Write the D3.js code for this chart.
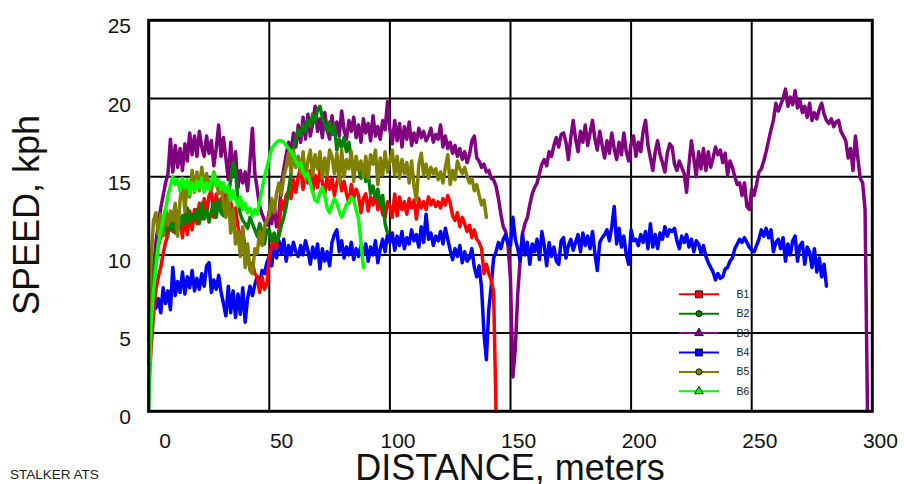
<!DOCTYPE html>
<html>
<head>
<meta charset="utf-8">
<script src="https://cdn.jsdelivr.net/npm/d3@7"></script>
<style>
  body { margin: 0; background: #fff; }
  text { font-family: Arial, "Liberation Sans", sans-serif; }
</style>
</head>
<body>
<svg id="chart" width="904" height="484"></svg>
<script>
// Speed vs distance, six runs B1..B6, one sample per metre
const X_TICKS = [0, 50, 100, 150, 200, 250, 300];
const Y_TICKS = [0, 5, 10, 15, 20, 25];
const GRID_X = [50, 100, 150, 200, 250];
const GRID_Y = [5, 10, 15, 20];
const NAMES = ["B1", "B2", "B3", "B4", "B5", "B6"];
const COLORS = ["#ff0000", "#008000", "#800080", "#0000ff", "#808000", "#00ff00"];
const SHAPES = ["square", "circle", "triangle", "square", "circle", "triangle"];
const STEP_M = 1;

const B1 = [
  1.5, 4.0, 6.2, 7.8, 8.6, 9.2, 10.1, 10.8, 11.3, 12.4,
  11.5, 12.9, 11.7, 12.4, 11.1, 12.6, 11.3, 12.8, 11.6, 12.9,
  12.0, 13.3, 12.3, 13.6, 12.6, 13.8, 14.1, 12.4, 13.9, 12.9,
  13.6, 12.8, 14.0, 13.2, 13.4, 12.5, 13.0, 11.8, 11.0, 11.6,
  10.4, 9.9, 9.1, 9.5, 8.8, 8.6, 7.6, 8.6, 7.8, 8.2,
  9.8, 10.6, 11.2, 10.4, 11.6, 13.5, 12.9, 13.8, 14.1, 13.6,
  14.8, 14.0, 15.0, 15.6, 14.2, 15.3, 14.6, 15.4, 14.0, 15.1,
  14.3, 15.5, 14.6, 13.9, 15.0, 14.2, 14.9, 13.8, 14.6, 15.2,
  14.1, 14.7, 13.9, 13.3, 14.5, 13.6, 14.2, 13.8, 12.7, 13.6,
  13.9, 12.8, 13.7, 13.2, 14.0, 12.9, 13.5, 12.6, 12.4, 13.4,
  13.1, 12.4, 13.9, 12.5, 13.7, 12.9, 13.4, 12.6, 13.6, 13.0,
  13.5, 12.3, 13.6, 13.0, 13.4, 12.9, 13.7, 13.2, 13.5, 13.1,
  13.4, 13.0, 13.6, 13.2, 13.8, 13.3, 12.5, 12.2, 12.7, 11.8,
  12.4, 12.0, 11.5, 11.9, 11.1, 11.6, 11.0, 10.8, 10.4, 8.8,
  9.4, 8.8, 8.4, 7.6, 0
];
const B2 = [
  3.0, 6.0, 8.5, 10.0, 10.6, 11.2, 11.7, 11.3, 12.2, 11.6,
  12.0, 11.4, 12.8, 11.7, 12.5, 12.0, 13.0, 12.1, 12.6, 12.2,
  12.9, 12.0, 13.3, 12.3, 12.9, 12.1, 12.8, 13.3, 12.4, 13.5,
  12.7, 12.5, 13.4, 13.8, 14.8, 15.9, 15.4, 13.4, 12.6, 12.2,
  12.0, 11.7, 12.4, 12.0, 11.6, 11.2, 12.0, 11.5, 10.7, 11.6,
  11.6, 10.9, 11.4, 10.8, 11.2, 11.9, 12.4, 13.1, 14.1, 15.2,
  16.7, 17.4, 18.0, 17.6, 18.3, 17.9, 18.6, 18.2, 19.0, 18.5,
  19.3, 19.5, 18.8, 18.4, 17.9, 18.5, 17.7, 18.3, 16.7, 17.4,
  16.9, 17.5, 16.6, 17.2, 16.1, 15.4, 16.0, 15.6, 14.9, 15.5,
  14.7, 15.2, 13.9, 14.4, 13.6, 14.2, 13.2, 13.8, 12.0, 11.4
];
const B3 = [
  4.5, 7.0, 9.2, 10.8, 12.0, 13.0, 13.8, 14.6, 15.2, 17.4,
  15.3, 17.0, 15.6, 16.8, 15.4, 17.1, 16.0, 17.8, 16.4, 17.6,
  16.3, 17.9, 16.9, 16.3, 17.6, 16.5, 17.3, 15.7, 16.8, 18.3,
  16.3, 17.5, 16.2, 14.8, 17.2, 15.0, 16.6, 14.3, 15.4, 14.6,
  15.3, 14.1, 16.0, 18.1, 15.2, 14.2, 13.1, 12.6, 12.2, 11.9,
  12.8, 12.0, 13.3, 11.8, 12.6, 14.5, 15.5, 16.4, 17.2, 16.5,
  17.8, 16.9, 18.3, 17.2, 18.8, 17.4, 19.0, 17.6, 18.4, 19.5,
  17.9, 18.7, 17.5, 19.1, 18.0, 17.4, 18.9, 17.7, 18.5, 17.6,
  19.2, 18.0, 17.4, 18.6, 17.9, 18.8, 17.5, 18.3, 17.2, 18.7,
  17.8, 18.4, 17.3, 18.9, 17.6, 18.2, 17.4, 18.6, 18.0, 19.8,
  18.0, 17.1, 18.6, 17.3, 18.4, 16.9, 18.2, 17.4, 18.5, 17.0,
  17.8, 17.2, 18.1, 17.5, 17.9, 17.3, 17.6, 18.1, 17.2, 17.7,
  17.4, 18.3, 16.9, 17.6, 16.8, 17.2, 16.5, 17.0, 16.3, 16.8,
  16.1, 16.6, 15.9, 16.4, 17.3, 17.6, 16.2, 16.0, 15.6, 15.8,
  15.3, 15.4, 14.9, 14.8, 14.4, 13.6, 12.6, 11.8, 11.5, 10.6,
  8.4, 2.2, 4.0, 7.5, 9.7, 11.4, 12.0, 12.4, 13.2, 13.9,
  14.3, 14.6, 15.2, 15.8, 16.1, 15.7, 16.6, 16.3, 17.0, 17.5,
  16.9, 17.7, 17.8, 17.2, 16.1, 17.5, 18.6, 17.4, 16.6, 17.9,
  17.2, 18.3, 17.0, 17.8, 18.6, 17.4, 16.7, 17.9, 17.0, 16.2,
  17.3, 16.5, 17.8, 16.8, 16.1, 17.2, 16.4, 17.8, 16.6, 16.0,
  17.1, 17.6, 16.3, 17.2, 16.6, 17.9, 18.6, 17.0, 16.2, 15.4,
  16.6, 17.3, 16.4, 15.9, 15.3, 16.5, 17.1, 16.9, 15.8, 15.4,
  16.0, 15.6, 15.2, 14.0, 15.8, 17.3, 16.2, 15.0, 16.6, 15.5,
  16.8, 15.4, 16.6, 15.6, 16.2, 16.9, 16.4, 16.7, 15.9, 16.5,
  15.1, 16.0, 15.6, 15.0, 14.5, 14.6, 13.8, 14.6, 13.1, 12.9,
  14.2, 13.8, 14.5, 15.3, 15.5, 16.0, 16.6, 17.3, 18.0, 18.6,
  19.7, 19.2, 19.6, 20.0, 20.6, 19.5, 20.1, 19.6, 20.5, 19.4,
  19.9, 19.1, 19.5, 18.8, 19.7, 18.6, 19.1, 18.7, 19.3, 19.7,
  19.0, 18.6, 18.4, 18.7, 18.2, 18.5, 18.6, 17.9, 17.6, 17.3,
  16.2, 16.8, 15.4, 17.6, 16.2, 14.9, 14.6, 12.9, 0
];
const B4 = [
  4.5, 6.5, 7.6, 6.6, 7.2, 6.3, 7.9, 6.9, 7.7, 6.5,
  9.2, 7.4, 8.3, 7.6, 8.9, 7.5, 8.6, 7.9, 9.0, 7.7,
  8.5, 7.8, 8.8, 8.0, 9.3, 9.5, 7.6, 8.4, 7.8, 8.7,
  7.6, 6.9, 6.1, 8.0, 6.3, 7.7, 6.0, 7.5, 6.2, 7.9,
  5.7, 7.2, 8.0, 7.4, 8.1, 8.6, 8.2, 9.0, 8.8, 9.5,
  9.9, 9.3, 10.7, 9.8, 10.9, 10.1, 11.0, 9.6, 10.6, 10.0,
  10.8, 10.2, 9.9, 10.6, 10.0, 10.9, 10.3, 9.4, 10.5, 9.8,
  10.7, 9.1, 10.4, 9.6, 10.2, 9.3, 10.8, 11.3, 11.6, 10.2,
  10.9, 9.8, 10.5, 10.0, 10.8, 9.7, 10.4, 9.9, 10.6, 10.1,
  10.7, 9.6, 10.5, 10.0, 10.9, 9.5, 10.4, 11.0, 10.2, 11.3,
  10.8, 11.4, 10.3, 11.2, 10.6, 11.5, 10.4, 11.1, 10.7, 11.6,
  10.9, 11.3, 10.5, 11.8, 10.8, 12.6, 11.0, 11.4, 10.6, 11.2,
  10.9, 11.5, 10.7, 11.7, 11.0, 10.3, 9.7, 10.4, 9.9, 10.6,
  9.5, 10.2, 9.6, 9.8, 10.4, 9.2, 8.6, 9.3, 7.9, 5.0,
  3.3, 6.5, 8.0, 9.8, 10.2, 10.8, 10.4, 11.0, 11.3, 10.7,
  10.6, 12.4, 11.0, 10.4, 9.6, 11.3, 10.0, 10.8, 9.4, 10.7,
  10.2, 11.0, 9.7, 11.5, 10.6, 9.3, 10.8, 9.9, 10.5, 9.6,
  9.4, 10.9, 11.1, 9.8, 10.6, 11.0, 10.3, 10.8, 11.3, 10.2,
  11.4, 10.6, 11.2, 10.4, 11.5, 10.1, 9.0, 10.8, 11.1, 11.3,
  11.6, 10.9, 11.8, 13.1, 10.7, 11.7, 10.5, 11.2, 10.0, 9.4,
  11.6, 10.9, 11.0, 10.6, 11.3, 10.8, 11.5, 10.4, 12.0, 10.5,
  11.3, 10.4, 11.4, 11.0, 11.8, 11.2, 11.6, 11.5, 11.7, 10.9,
  10.4, 11.2, 10.8, 11.3, 10.5, 11.0, 10.2, 10.9, 10.7, 10.1,
  10.6, 9.9, 9.5, 9.2, 8.9, 8.4, 8.8, 8.5, 8.6, 9.1,
  9.2, 9.6, 9.8, 10.4, 10.7, 11.0, 10.8, 11.1, 10.8, 10.5,
  10.3, 10.2, 10.6, 11.0, 11.6, 11.2, 11.7, 11.1, 11.6, 10.2,
  10.8, 11.0, 10.4, 11.1, 9.6, 10.7, 10.0, 10.9, 11.2, 9.6,
  10.6, 10.8, 9.4, 10.5, 10.2, 9.2, 10.4, 8.9, 9.8, 8.6,
  9.4, 8.0
];
const B5 = [
  5.5, 9.8, 12.2, 12.7, 11.3, 12.6, 11.2, 13.0, 11.9, 12.8,
  12.2, 13.3, 11.2, 13.5, 14.6, 12.8, 14.6, 13.7, 15.4, 14.0,
  15.3, 14.1, 15.6, 14.4, 15.2, 14.6, 14.1, 15.3, 14.8, 13.9,
  14.6, 13.2, 12.4, 14.0, 11.4, 12.9, 10.7, 11.5, 9.9, 11.8,
  9.2, 10.7, 9.0, 8.8, 10.4, 10.1, 11.5, 10.6, 11.8, 12.2,
  12.5, 13.6, 12.7, 13.9, 14.6, 13.8, 15.0, 15.6, 16.5, 15.3,
  16.7, 15.6, 16.3, 15.2, 16.6, 14.8, 16.0, 16.7, 15.1, 16.4,
  15.5, 16.6, 14.9, 16.2, 15.1, 16.7, 16.3, 15.2, 16.5, 14.6,
  16.7, 15.0, 16.1, 15.5, 16.6, 14.7, 16.3, 15.4, 16.0, 15.0,
  16.3, 14.9, 16.4, 15.8, 16.7, 14.5, 16.2, 15.1, 16.6, 15.3,
  16.0, 16.7, 15.1, 16.3, 14.9, 16.1, 15.2, 15.9, 14.6, 16.0,
  14.4, 13.5, 15.8, 16.5, 15.1, 15.8, 14.9, 15.6, 15.2, 15.5,
  14.8, 15.3, 14.6, 15.6, 16.4, 14.5, 15.4, 14.8, 16.0, 15.5,
  15.2, 15.6, 15.0, 14.6, 14.9, 14.1, 14.5, 13.8, 13.2, 13.5,
  12.4
];
const B6 = [
  0, 5.6, 7.7, 9.2, 10.7, 11.5, 12.3, 12.9, 13.8, 14.4,
  15.0, 14.5, 14.8, 14.1, 14.9, 14.3, 14.8, 13.9, 14.6, 14.1,
  14.7, 14.3, 14.9, 14.0, 14.6, 14.2, 14.7, 15.2, 14.4, 14.8,
  14.2, 14.6, 14.0, 14.4, 13.5, 14.1, 13.6, 13.1, 13.7, 12.9,
  13.3, 12.7, 13.0, 12.5, 12.9, 12.6, 13.4, 14.2, 15.0, 15.6,
  16.2, 16.8, 17.0, 17.2, 17.3, 17.3, 17.2, 17.0, 16.8, 16.6,
  16.4, 16.0, 15.7, 15.9, 15.3, 15.0, 15.2, 14.6, 14.0, 13.5,
  13.4, 14.0, 14.3, 13.8, 13.0, 12.7, 13.2, 13.6, 13.3, 12.8,
  12.4, 12.8, 13.2, 13.4, 13.7, 13.5, 12.9, 12.3, 10.8, 9.2
];
const SERIES = [B1, B2, B3, B4, B5, B6];
const DRAW_ORDER = [2, 3, 0, 1, 4, 5];

const W = 904, H = 484;
const svg = d3.select("#chart");
svg.append("rect").attr("width", W).attr("height", H).attr("fill", "#fff");

const x = d3.scaleLinear().domain([0, 300]).range([148.7, 872.3]);
const y = d3.scaleLinear().domain([0, 25]).range([411.3, 20.3]);

// grid
const grid = svg.append("g").attr("stroke", "#000").attr("stroke-width", 2);
grid.selectAll("line.gx").data(GRID_X).join("line")
  .attr("x1", d => x(d)).attr("x2", d => x(d))
  .attr("y1", y(25)).attr("y2", y(0));
grid.selectAll("line.gy").data(GRID_Y).join("line")
  .attr("x1", x(0)).attr("x2", x(300))
  .attr("y1", d => y(d)).attr("y2", d => y(d));

// tick labels
svg.append("g").selectAll("text").data(Y_TICKS).join("text")
  .attr("x", 131).attr("y", d => y(d) + 13)
  .attr("text-anchor", "end").attr("font-size", 21).attr("fill", "#111")
  .text(d => d);
svg.append("g").selectAll("text").data(X_TICKS).join("text")
  .attr("x", d => x(d) + 20.6 - 10 * String(d).length)
  .attr("y", 448)
  .attr("font-size", 21).attr("fill", "#111")
  .text(d => d);

// series
const line = d3.line()
  .x((d, i) => x(i * STEP_M))
  .y(d => y(d));
const lines = svg.append("g").attr("fill", "none")
  .attr("stroke-linejoin", "round").attr("stroke-linecap", "round");
DRAW_ORDER.forEach(k => {
  lines.append("path")
    .attr("d", line(SERIES[k]))
    .attr("stroke", COLORS[k])
    .attr("stroke-width", 3.5);
});

// frame
svg.append("rect")
  .attr("x", x(0)).attr("y", y(25))
  .attr("width", x(300) - x(0)).attr("height", y(0) - y(25))
  .attr("fill", "none").attr("stroke", "#000").attr("stroke-width", 3);

// legend
const symbolType = { square: d3.symbolSquare, circle: d3.symbolCircle, triangle: d3.symbolTriangle };
const symbolSize = { square: 49, circle: 30, triangle: 32 };
const leg = svg.append("g");
NAMES.forEach((n, i) => {
  const ly = 294.3 + i * 19.4;
  leg.append("line")
    .attr("x1", 679).attr("x2", 719).attr("y1", ly).attr("y2", ly)
    .attr("stroke", COLORS[i]).attr("stroke-width", 2);
  leg.append("path")
    .attr("d", d3.symbol(symbolType[SHAPES[i]], symbolSize[SHAPES[i]])())
    .attr("transform", `translate(699,${ly})`)
    .attr("fill", COLORS[i]).attr("stroke", "#000").attr("stroke-width", 0.8);
  leg.append("text")
    .attr("x", 736.5).attr("y", ly + 3.5)
    .attr("font-size", 10.5).attr("fill", "#222")
    .text(n);
});

// axis titles
svg.append("text")
  .attr("x", 510).attr("y", 480)
  .attr("text-anchor", "middle").attr("font-size", 36).attr("fill", "#111")
  .text("DISTANCE, meters");
svg.append("text")
  .attr("transform", "translate(39,215) rotate(-90)")
  .attr("text-anchor", "middle").attr("font-size", 36).attr("fill", "#111")
  .text("SPEED, kph");
svg.append("text")
  .attr("x", 10).attr("y", 479)
  .attr("font-size", 13.5).attr("fill", "#222")
  .text("STALKER ATS");
</script>
</body>
</html>
